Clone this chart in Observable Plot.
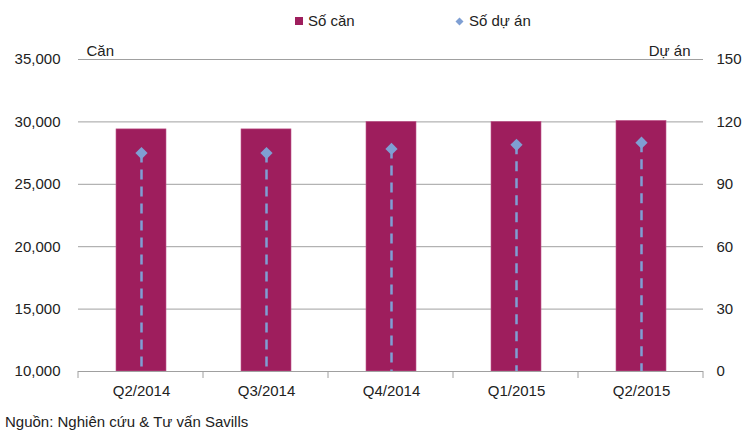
<!DOCTYPE html>
<html><head><meta charset="utf-8">
<script src="https://cdn.jsdelivr.net/npm/d3@7"></script>
<script src="https://cdn.jsdelivr.net/npm/@observablehq/plot@0.6"></script>
<style>
body{margin:0;background:#fff;font-family:"Liberation Sans",Arial,sans-serif;color:#222;}
#legend{position:relative;height:34px;font-size:15px;}
.item{position:absolute;top:11px;height:20px;line-height:20px;display:flex;align-items:center;white-space:nowrap;}
#caption{font-size:15px;height:22px;line-height:22px;padding-left:5px;padding-top:2px;}
</style></head><body>
<div id="legend"></div><div id="chart"></div><div id="caption"></div>
<script>
const quarters = ["Q2/2014","Q3/2014","Q4/2014","Q1/2015","Q2/2015"];
const units = [29400, 29400, 30000, 30000, 30080];
const projects = [105, 105, 107, 109, 110];
const leftTicks = [10000,15000,20000,25000,30000,35000];
const rightTicks = [0,30,60,90,120,150];
const seriesNames = ["Số căn","Số dự án"];
const axisTitles = ["Căn","Dự án"];
const captionText = "Nguồn: Nghiên cứu & Tư vấn Savills";

const barColor = "#9E1E5D";
const dotColor = "#7F9FD3";
const gridColor = "#a0a0a0";

const yMin = leftTicks[0], yMax = leftTicks[leftTicks.length-1];
const rMin = rightTicks[0], rMax = rightTicks[rightTicks.length-1];
const toLeft = v => yMin + (v - rMin) / (rMax - rMin) * (yMax - yMin);

const rows = quarters.map((q,i)=>({q, units: units[i], proj: projects[i], projY: toLeft(projects[i])}));

// legend
const legend = document.getElementById("legend");
legend.innerHTML = `
<div class="item" style="left:295px"><span style="display:inline-block;width:8px;height:8px;background:${barColor};margin-right:5px"></span>${seriesNames[0]}</div>
<div class="item" style="left:455px"><svg width="9" height="9" style="margin-right:5px"><path d="M4.5,0.5L8.5,4.5L4.5,8.5L0.5,4.5Z" fill="${dotColor}"/></svg>${seriesNames[1]}</div>`;

const tickMarks = (index, scales, values, dims) => {
  const g = d3.create("svg:g");
  const n = quarters.length;
  const w = (dims.width - dims.marginLeft - dims.marginRight) / n;
  const y0 = scales.y(yMin);
  for (let i = 0; i <= n; i++) {
    const xx = dims.marginLeft + i * w;
    g.append("line").attr("x1", xx).attr("x2", xx).attr("y1", y0).attr("y2", y0 + 7)
      .attr("stroke", gridColor);
  }
  return g.node();
};

const chart = Plot.plot({
  width: 743, height: 375,
  marginLeft: 78, marginRight: 40, marginTop: 25, marginBottom: 38,
  style: {fontSize: "15px", fontFamily: '"Liberation Sans", Arial, sans-serif', color: "#222", background: "#fff", overflow: "visible"},
  x: {type: "band", domain: quarters, paddingInner: 0.6, paddingOuter: 0.3, label: null},
  y: {domain: [yMin, yMax], label: null},
  marks: [
    Plot.gridY(leftTicks.slice(1), {stroke: gridColor, strokeOpacity: 1}),
    Plot.barY(rows, {x: "q", y1: yMin, y2: "units", fill: barColor, stroke: "#c0588c", strokeWidth: 0.6}),
    Plot.ruleX(rows, {x: "q", y1: "projY", y2: yMin, stroke: dotColor, strokeWidth: 2.5, strokeDasharray: "10,7"}),
    Plot.dot(rows, {x: "q", y: "projY", symbol: "diamond2", r: 5.5, fill: dotColor, stroke: "none"}),
    Plot.ruleY([yMin], {stroke: gridColor}),
    tickMarks,
    Plot.axisY(leftTicks, {anchor: "left", tickSize: 0, tickPadding: 18, tickFormat: d3.format(","), label: null}),
    Plot.axisY(leftTicks, {anchor: "right", tickSize: 0, tickPadding: 13, tickFormat: d => rightTicks[leftTicks.indexOf(d)], label: null}),
    Plot.axisX({tickSize: 0, tickPadding: 14, label: null}),
    Plot.text([axisTitles[0]], {text: d => d, frameAnchor: "top-left", dx: 8, dy: -14, textAnchor: "start"}),
    Plot.text([axisTitles[1]], {text: d => d, frameAnchor: "top-right", dx: -13, dy: -14, textAnchor: "end"})
  ]
});
document.getElementById("chart").appendChild(chart);
document.getElementById("caption").textContent = captionText;
</script>
</body></html>
